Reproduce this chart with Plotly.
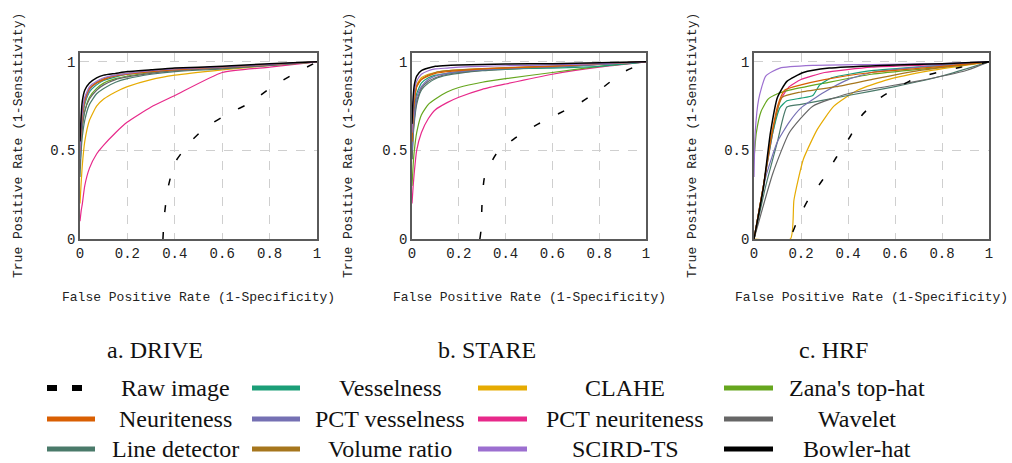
import plotly.graph_objects as go

W, H = 1012, 463

METHODS = ["Raw image", "Vesselness", "CLAHE", "Zana's top-hat",
           "Neuriteness", "PCT vesselness", "PCT neuriteness", "Wavelet",
           "Line detector", "Volume ratio", "SCIRD-TS", "Bowler-hat"]
COLORS = {"Raw image": "#000000", "Vesselness": "#1b9e77", "CLAHE": "#e6ab02",
          "Zana's top-hat": "#66a61e", "Neuriteness": "#d95f02",
          "PCT vesselness": "#7570b3", "PCT neuriteness": "#e7298a",
          "Wavelet": "#666666", "Line detector": "#4a7a6a",
          "Volume ratio": "#a6761d", "SCIRD-TS": "#9c6fd0", "Bowler-hat": "#000000"}

PANEL_TITLES = ["a. DRIVE", "b. STARE", "c. HRF"]
X_TICKS = [0, 0.2, 0.4, 0.6, 0.8, 1]
X_TICK_LABELS = ["0", "0.2", "0.4", "0.6", "0.8", "1"]
Y_TICKS = [0, 0.5, 1]
Y_TICK_LABELS = ["0", "0.5", "1"]

# common false-positive-rate grid for DRIVE and STARE
FPR = [0, 0.005, 0.01, 0.02, 0.04, 0.07, 0.1, 0.15, 0.2, 0.3, 0.4, 0.6, 0.8, 1.0]

# ---------------- DRIVE ----------------
drive_raw_x = [0.35, 0.355, 0.37, 0.40, 0.46, 0.53, 0.63, 0.72, 0.81, 0.90, 1.0]
drive_raw_y = [0.0, 0.12, 0.28, 0.43, 0.54, 0.63, 0.71, 0.77, 0.86, 0.93, 1.0]
drive_tpr = {
    "Vesselness":      [0.45, 0.60, 0.68, 0.76, 0.83, 0.87, 0.895, 0.915, 0.93, 0.945, 0.955, 0.97, 0.985, 1],
    "CLAHE":           [0.20, 0.32, 0.42, 0.55, 0.67, 0.75, 0.79, 0.83, 0.86, 0.90, 0.925, 0.955, 0.98, 1],
    "Zana's top-hat":  [0.40, 0.55, 0.64, 0.72, 0.80, 0.85, 0.88, 0.905, 0.92, 0.94, 0.955, 0.97, 0.985, 1],
    "Neuriteness":     [0.50, 0.62, 0.70, 0.78, 0.85, 0.88, 0.90, 0.92, 0.93, 0.945, 0.955, 0.97, 0.985, 1],
    "PCT vesselness":  [0.45, 0.60, 0.68, 0.77, 0.84, 0.88, 0.90, 0.92, 0.93, 0.945, 0.955, 0.97, 0.985, 1],
    "PCT neuriteness": [0.10, 0.16, 0.20, 0.30, 0.40, 0.48, 0.53, 0.60, 0.66, 0.745, 0.81, 0.94, 0.97, 1],
    "Wavelet":         [0.40, 0.55, 0.63, 0.72, 0.79, 0.84, 0.87, 0.90, 0.915, 0.935, 0.95, 0.965, 0.98, 1],
    "Line detector":   [0.35, 0.50, 0.58, 0.67, 0.76, 0.82, 0.85, 0.885, 0.905, 0.93, 0.945, 0.96, 0.98, 1],
    "Volume ratio":    [0.50, 0.63, 0.71, 0.79, 0.85, 0.885, 0.905, 0.925, 0.935, 0.95, 0.96, 0.972, 0.986, 1],
    "SCIRD-TS":        [0.50, 0.64, 0.72, 0.80, 0.86, 0.89, 0.91, 0.925, 0.935, 0.95, 0.96, 0.972, 0.986, 1],
    "Bowler-hat":      [0.55, 0.70, 0.78, 0.84, 0.88, 0.91, 0.925, 0.935, 0.945, 0.955, 0.965, 0.975, 0.99, 1],
}

# ---------------- STARE ----------------
stare_raw_x = [0.29, 0.295, 0.30, 0.31, 0.36, 0.44, 0.54, 0.63, 0.72, 0.82, 0.90, 1.0]
stare_raw_y = [0.0, 0.05, 0.22, 0.35, 0.48, 0.57, 0.65, 0.71, 0.77, 0.86, 0.94, 1.0]
stare_tpr = {
    "Vesselness":      [0.50, 0.65, 0.73, 0.82, 0.88, 0.91, 0.925, 0.935, 0.945, 0.955, 0.96, 0.965, 0.975, 1],
    "CLAHE":           [0.55, 0.72, 0.80, 0.87, 0.91, 0.93, 0.94, 0.95, 0.955, 0.96, 0.965, 0.975, 0.99, 1],
    "Zana's top-hat":  [0.30, 0.42, 0.50, 0.60, 0.70, 0.76, 0.79, 0.83, 0.855, 0.885, 0.905, 0.94, 0.975, 1],
    "Neuriteness":     [0.55, 0.70, 0.78, 0.86, 0.90, 0.92, 0.935, 0.945, 0.95, 0.96, 0.965, 0.975, 0.99, 1],
    "PCT vesselness":  [0.50, 0.62, 0.70, 0.80, 0.86, 0.90, 0.92, 0.935, 0.945, 0.955, 0.962, 0.972, 0.985, 1],
    "PCT neuriteness": [0.20, 0.30, 0.38, 0.50, 0.60, 0.68, 0.73, 0.77, 0.80, 0.845, 0.875, 0.93, 0.97, 1],
    "Wavelet":         [0.45, 0.60, 0.68, 0.78, 0.85, 0.89, 0.91, 0.93, 0.94, 0.952, 0.96, 0.97, 0.985, 1],
    "Line detector":   [0.45, 0.58, 0.66, 0.76, 0.84, 0.88, 0.905, 0.925, 0.935, 0.95, 0.958, 0.97, 0.985, 1],
    "Volume ratio":    [0.55, 0.70, 0.78, 0.86, 0.90, 0.925, 0.94, 0.95, 0.955, 0.962, 0.967, 0.977, 0.99, 1],
    "SCIRD-TS":        [0.60, 0.75, 0.83, 0.89, 0.93, 0.95, 0.96, 0.965, 0.97, 0.975, 0.978, 0.983, 0.99, 1],
    "Bowler-hat":      [0.65, 0.80, 0.87, 0.92, 0.95, 0.965, 0.975, 0.98, 0.982, 0.985, 0.988, 0.99, 0.995, 1],
}

# ---------------- HRF ----------------
hrf_raw_x = [0.165, 0.19, 0.23, 0.29, 0.35, 0.41, 0.46, 0.54, 0.66, 0.75, 0.88, 1.0]
hrf_raw_y = [0.04, 0.12, 0.22, 0.33, 0.46, 0.58, 0.70, 0.80, 0.89, 0.93, 0.97, 1.0]
hrf_curves = {
    "Vesselness":      ([0, 0.04, 0.08, 0.11, 0.14, 0.20, 0.25, 0.28, 0.33, 0.5, 0.8, 1],
                        [0, 0.30, 0.60, 0.74, 0.78, 0.795, 0.81, 0.87, 0.91, 0.95, 0.98, 1]),
    "CLAHE":           ([0, 0.155, 0.17, 0.21, 0.27, 0.34, 0.44, 0.57, 0.75, 1],
                        [0, 0, 0.22, 0.45, 0.62, 0.75, 0.84, 0.90, 0.95, 1]),
    "Zana's top-hat":  ([0, 0.01, 0.03, 0.06, 0.10, 0.15, 0.30, 0.5, 0.8, 1],
                        [0.45, 0.60, 0.72, 0.79, 0.82, 0.84, 0.88, 0.93, 0.97, 1]),
    "Neuriteness":     ([0, 0.04, 0.07, 0.10, 0.13, 0.20, 0.30, 0.5, 0.8, 1],
                        [0, 0.30, 0.55, 0.75, 0.84, 0.87, 0.90, 0.94, 0.975, 1]),
    "PCT vesselness":  ([0, 0.05, 0.10, 0.15, 0.20, 0.30, 0.40, 0.5, 0.7, 1],
                        [0, 0.35, 0.55, 0.66, 0.74, 0.83, 0.90, 0.94, 0.97, 1]),
    "PCT neuriteness": ([0, 0.04, 0.08, 0.11, 0.15, 0.20, 0.30, 0.5, 0.8, 1],
                        [0, 0.30, 0.60, 0.78, 0.86, 0.90, 0.94, 0.97, 0.985, 1]),
    "Wavelet":         ([0, 0.08, 0.15, 0.25, 0.40, 0.69, 0.9, 1],
                        [0, 0.37, 0.60, 0.75, 0.82, 0.89, 0.95, 1]),
    "Line detector":   ([0, 0.05, 0.10, 0.14, 0.20, 0.40, 0.6, 0.8, 1],
                        [0, 0.30, 0.55, 0.745, 0.76, 0.81, 0.86, 0.92, 1]),
    "Volume ratio":    ([0, 0.04, 0.08, 0.12, 0.20, 0.35, 0.5, 0.7, 1],
                        [0, 0.30, 0.62, 0.80, 0.83, 0.86, 0.90, 0.95, 1]),
    "SCIRD-TS":        ([0, 0.005, 0.02, 0.05, 0.11, 0.25, 0.5, 0.8, 1],
                        [0.35, 0.60, 0.79, 0.92, 0.965, 0.98, 0.985, 0.99, 1]),
    "Bowler-hat":      ([0, 0.04, 0.07, 0.10, 0.14, 0.21, 0.32, 0.54, 0.8, 1],
                        [0, 0.29, 0.60, 0.80, 0.89, 0.94, 0.965, 0.98, 0.99, 1]),
}

# ---------------- layout geometry (pixels) ----------------
PANEL_X = [(80, 317), (412, 646), (754, 989)]
PLOT_TOP, PLOT_BOT = 53, 239
YTITLE_X = [18, 348, 692]
XTITLE_Y = 297
CAPTION_Y = 350
CAPTION_X = [155, 487, 833]

MONO = "Liberation Mono"
SERIF = "Liberation Serif"

def px(xp):
    return xp / W

def py(yp):
    return 1 - yp / H

fig = go.Figure()

panel_data = [
    (drive_raw_x, drive_raw_y, {m: (FPR, v) for m, v in drive_tpr.items()}),
    (stare_raw_x, stare_raw_y, {m: (FPR, v) for m, v in stare_tpr.items()}),
    (hrf_raw_x, hrf_raw_y, hrf_curves),
]

draw_order = ["PCT neuriteness", "CLAHE", "Zana's top-hat", "Line detector", "Wavelet",
              "Vesselness", "PCT vesselness", "Volume ratio", "Neuriteness", "SCIRD-TS"]

for i, (rx, ry, curves) in enumerate(panel_data):
    xa = "x" if i == 0 else f"x{i+1}"
    ya = "y" if i == 0 else f"y{i+1}"
    for m in draw_order:
        cx, cy = curves[m]
        fig.add_trace(go.Scatter(x=cx, y=cy, mode="lines", name=m, showlegend=False,
                                 line=dict(color=COLORS[m], width=1.2, shape="spline", smoothing=0.5),
                                 xaxis=xa, yaxis=ya, hoverinfo="skip"))
    fig.add_trace(go.Scatter(x=rx, y=ry, mode="lines", name="Raw image", showlegend=False,
                             line=dict(color="#000000", width=1.5, dash="7px,20px", shape="spline", smoothing=0.5),
                             xaxis=xa, yaxis=ya, hoverinfo="skip"))
    cx, cy = curves["Bowler-hat"]
    fig.add_trace(go.Scatter(x=cx, y=cy, mode="lines", name="Bowler-hat", showlegend=False,
                             line=dict(color="#000000", width=1.5, shape="spline", smoothing=0.5),
                             xaxis=xa, yaxis=ya, hoverinfo="skip"))

axis_common = dict(showline=True, mirror=True, linecolor="#5a5a5a", linewidth=1.5,
                   showgrid=True, gridcolor="#cfcfcf", griddash="dash", gridwidth=1,
                   zeroline=False, ticks="", automargin=False,
                   tickfont=dict(family=MONO, size=14, color="#222"))

layout = dict(width=W, height=H, margin=dict(l=0, r=0, t=0, b=0, autoexpand=False),
              paper_bgcolor="white", plot_bgcolor="white", showlegend=False)
for i in range(3):
    sx = "" if i == 0 else str(i + 1)
    layout[f"xaxis{sx}"] = dict(axis_common, domain=[px(PANEL_X[i][0]), px(PANEL_X[i][1])],
                                range=[0, 1], tickvals=X_TICKS, ticktext=X_TICK_LABELS,
                                anchor=f"y{sx}")
    layout[f"yaxis{sx}"] = dict(axis_common, domain=[py(PLOT_BOT), py(PLOT_TOP)],
                                range=[0, 1.05], tickvals=Y_TICKS, ticktext=Y_TICK_LABELS,
                                anchor=f"x{sx}")
fig.update_layout(**layout)

ann = []
for i in range(3):
    cxp = (PANEL_X[i][0] + PANEL_X[i][1]) / 2
    ann.append(dict(x=px(cxp), y=py(XTITLE_Y), xref="paper", yref="paper",
                    text="False Positive Rate (1-Specificity)", showarrow=False,
                    xanchor="center", yanchor="middle",
                    font=dict(family=MONO, size=13, color="#222")))
    ann.append(dict(x=px(YTITLE_X[i]), y=py((PLOT_TOP + PLOT_BOT) / 2), xref="paper", yref="paper",
                    text="True Positive Rate (1-Sensitivity)", showarrow=False, textangle=-90,
                    xanchor="center", yanchor="middle",
                    font=dict(family=MONO, size=13, color="#222")))
    ann.append(dict(x=px(CAPTION_X[i]), y=py(CAPTION_Y), xref="paper", yref="paper",
                    text=PANEL_TITLES[i], showarrow=False, xanchor="center", yanchor="middle",
                    font=dict(family=SERIF, size=24, color="#111")))

# legend (manual, 3 rows x 4 columns)
LEG_ROWS_Y = [388, 419, 449]
LEG_LINE_X = [(47, 95), (252, 300), (478, 527), (724, 773)]
LEG_TEXT_X = [175, 390, 625, 857]
shapes = []
for k, m in enumerate(METHODS):
    r, c = divmod(k, 4)
    yy = py(LEG_ROWS_Y[r])
    x0, x1 = LEG_LINE_X[c]
    if m == "Raw image":
        for a, b in [(47, 57), (72, 82)]:
            shapes.append(dict(type="line", xref="paper", yref="paper", x0=px(a), x1=px(b),
                               y0=yy, y1=yy, line=dict(color="#000", width=6)))
    else:
        shapes.append(dict(type="line", xref="paper", yref="paper", x0=px(x0), x1=px(x1),
                           y0=yy, y1=yy, line=dict(color=COLORS[m], width=5)))
    ann.append(dict(x=px(LEG_TEXT_X[c]), y=yy, xref="paper", yref="paper", text=m,
                    showarrow=False, xanchor="center", yanchor="middle",
                    font=dict(family=SERIF, size=24, color="#111")))

fig.update_layout(annotations=ann, shapes=shapes)
fig.write_html("out.html", config={"displayModeBar": False},
               post_script="document.body.style.margin='0px';")
